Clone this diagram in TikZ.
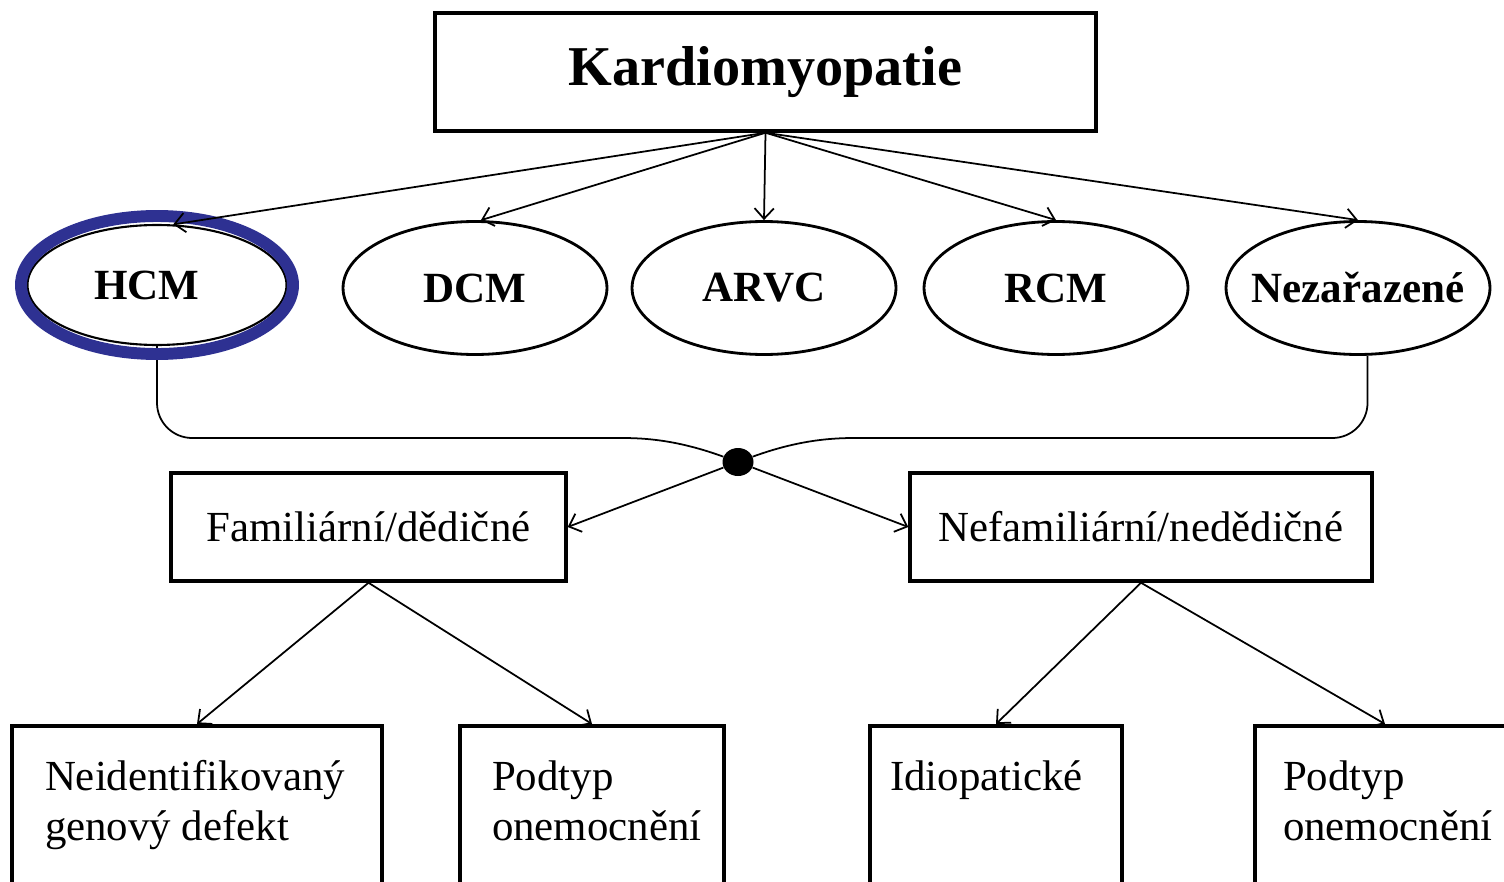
\documentclass[tikz,border=0pt]{standalone}
\usepackage{fontspec}
\setmainfont{Liberation Serif}
\usepackage{tikz}
\usetikzlibrary{shapes,arrows.meta,positioning,calc}
\definecolor{ringblue}{RGB}{46,49,146}

\newcommand{\leaftext}[2]{\parbox[t][3.8cm][t]{#1}{\raggedright\rule{0pt}{37pt}#2}}

\tikzset{
  titlebox/.style={rectangle, draw, line width=2pt, minimum width=13.22cm, minimum height=2.36cm,
    font=\fontsize{32}{38}\selectfont\bfseries},
  typeell/.style={ellipse, draw, line width=1.6pt, inner sep=0pt, minimum width=5.28cm, minimum height=2.66cm,
    font=\fontsize{24.5}{29}\selectfont\bfseries},
  groupbox/.style={rectangle, draw, line width=2pt, minimum height=2.16cm,
    font=\fontsize{24.4}{28.3}\selectfont},
  leafbox/.style={rectangle, draw, line width=2pt, anchor=north, inner ysep=0pt, inner xsep=#1,
    font=\fontsize{24.4}{28.3}\selectfont},
  conn/.style={line width=1pt, -{Straight Barb[length=6pt,width=11pt]}},
  plainconn/.style={line width=1pt},
}

\begin{document}
\begin{tikzpicture}[x=0.02cm, y=-0.02cm]
  \useasboundingbox (0,0) rectangle (1504,882);
  \clip (0,0) rectangle (1504,882);

  \node[titlebox] (card) at (765.5,72) {Kardiomyopatie};

  \node[typeell, minimum width=5.18cm, minimum height=2.4cm, line width=1.2pt] (hcm) at (157,285) {\makebox[0pt]{\hspace*{-0.4cm}HCM}};
  \node[typeell] (dcm) at (475,288) {DCM};
  \node[typeell] (arvc) at (764,288) {ARVC};
  \node[typeell] (rcm) at (1056,288) {RCM};
  \node[typeell] (nez) at (1358,288) {\makebox[0pt]{Nezařazené}};

  \node[fill, ellipse, minimum width=0.62cm, minimum height=0.56cm, inner sep=0pt] (hub) at (738,462) {};
  \coordinate (hubl) at (575,438);
  \coordinate (hubr) at (905,438);
  \draw[plainconn, rounded corners=20pt] (hcm.south) |- (hubl) [sharp corners] to[out=0,in=160] (hub);
  \draw[plainconn, rounded corners=20pt] (nez.-82) |- (hubr) [sharp corners] to[out=180,in=20] (hub);

  \draw[ringblue, line width=6.8pt] (hcm.center) ellipse [x radius=136, y radius=69];

  \draw[conn] (card.south) -- (hcm.75);
  \draw[conn] (card.south) -- (dcm.85);
  \draw[conn] (card.south) -- (arvc.north);
  \draw[conn] (card.south) -- (rcm.north);
  \draw[conn] (card.south) -- (nez.north);

  \node[groupbox, minimum width=7.9cm] (fam) at (368.5,527) {Familiární/dědičné};
  \node[groupbox, minimum width=9.24cm] (nefam) at (1141,527) {Nefamiliární/nedědičné};
  \draw[conn] (hub) -- (fam.east);
  \draw[conn] (hub) -- (nefam.west);

  \node[leafbox=0.66cm] (neid) at (197,724) {\leaftext{6.08cm}{Neidentifikovaný\\genový defekt}};
  \node[leafbox=0.64cm] (subfam) at (592,724) {\leaftext{4cm}{Podtyp\\onemocnění}};
  \node[leafbox=0.4cm] (idio) at (996,724) {\leaftext{4.24cm}{Idiopatické}};
  \node[leafbox=0.56cm] (subnefam) at (1385,724) {\leaftext{4.08cm}{Podtyp\\onemocnění}};

  \draw[conn] (fam.south) -- (neid.north);
  \draw[conn] (fam.south) -- (subfam.north);
  \draw[conn] (nefam.south) -- (idio.north);
  \draw[conn] (nefam.south) -- (subnefam.north);
\end{tikzpicture}
\end{document}
